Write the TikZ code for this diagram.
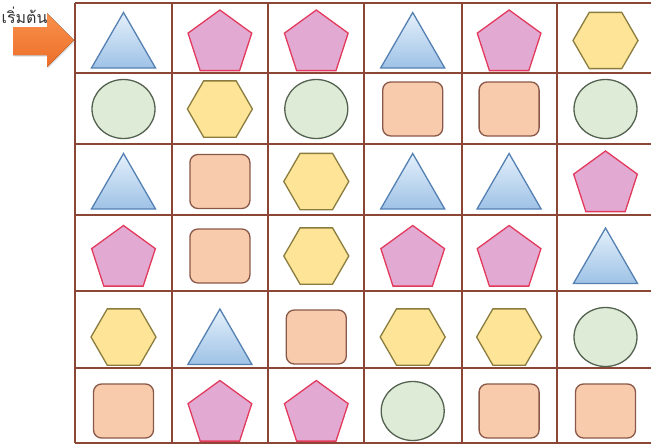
\documentclass[tikz,border=0pt]{standalone}
\usepackage{fontspec}
\newfontfamily\thaifont[Script=Thai]{Loma}
\usepackage{tikz}
\usetikzlibrary{shapes.geometric,shadows}
\definecolor{gridbrown}{RGB}{140,70,54}
\definecolor{triline}{RGB}{84,128,178}
\definecolor{tritop}{RGB}{228,240,251}
\definecolor{tribot}{RGB}{158,194,230}
\definecolor{pentfill}{RGB}{226,170,210}
\definecolor{pentline}{RGB}{226,58,92}
\definecolor{hexfill}{RGB}{253,228,150}
\definecolor{hexline}{RGB}{138,124,62}
\definecolor{sqfill}{RGB}{248,203,173}
\definecolor{sqline}{RGB}{138,88,72}
\definecolor{circfill}{RGB}{222,235,215}
\definecolor{circline}{RGB}{84,98,80}
\definecolor{arrtop}{RGB}{248,145,75}
\definecolor{arrbot}{RGB}{236,110,42}

\begin{document}
\begin{tikzpicture}[x=1pt, y=-1pt,
    tri/.style={regular polygon, regular polygon sides=3, minimum size=74pt,
                draw=triline, line width=1.3pt, top color=tritop, bottom color=tribot,
                inner sep=0pt, yshift=-9pt},
    penta/.style={regular polygon, regular polygon sides=5, minimum size=67pt,
                  draw=pentline, line width=1.3pt, fill=pentfill, inner sep=0pt, yshift=-3pt},
    hexa/.style={regular polygon, regular polygon sides=6, minimum size=65pt,
                 draw=hexline, line width=1.3pt, fill=hexfill, inner sep=0pt},
    rsq/.style={rectangle, rounded corners=8pt, minimum width=60pt, minimum height=54pt,
                draw=sqline, line width=1.3pt, fill=sqfill, inner sep=0pt},
    circ/.style={ellipse, minimum width=63pt, minimum height=59pt,
                 draw=circline, line width=1.3pt, fill=circfill, inner sep=0pt},
    gridline/.style={gridbrown, line width=1.8pt}]

    \useasboundingbox (0,0) rectangle (651,445);

    % Grid
    \foreach \y in {3,73,144,215,291,368,443}
        \draw[gridline] (75,\y) -- (655,\y);
    \foreach \x in {75,172,268,364,462,557,654}
        \draw[gridline] (\x,3) -- (\x,443);

    % Rows of shapes
    \foreach \s [count=\c] in {tri,penta,penta,tri,penta,hexa}
        \node[\s] (r1c\c) at ({27.1+96.4*\c},40.5) {};
    \foreach \s [count=\c] in {circ,hexa,circ,rsq,rsq,circ}
        \node[\s] (r2c\c) at ({27.1+96.4*\c},109) {};
    \foreach \s [count=\c] in {tri,rsq,hexa,tri,tri,penta}
        \node[\s] (r3c\c) at ({27.1+96.4*\c},181.5) {};
    \foreach \s [count=\c] in {penta,rsq,hexa,penta,penta,tri}
        \node[\s] (r4c\c) at ({27.1+96.4*\c},256) {};
    \foreach \s [count=\c] in {hexa,tri,rsq,hexa,hexa,circ}
        \node[\s] (r5c\c) at ({27.1+96.4*\c},337) {};
    \foreach \s [count=\c] in {rsq,penta,penta,circ,rsq,rsq}
        \node[\s] (r6c\c) at ({27.1+96.4*\c},411) {};

    % Start arrow
    \fill[top color=arrtop, bottom color=arrbot,
          drop shadow={shadow xshift=1pt, shadow yshift=-1.5pt, opacity=0.25}]
        (13,27) -- (47,27) -- (47,13) -- (74,40) -- (47,67) -- (47,55) -- (13,55) -- cycle;
    \node[font=\thaifont\fontsize{16}{18}\selectfont, text=black!80, inner sep=0pt]
        (start) at (24.5,15) {เริ่มต้น};
\end{tikzpicture}
\end{document}
